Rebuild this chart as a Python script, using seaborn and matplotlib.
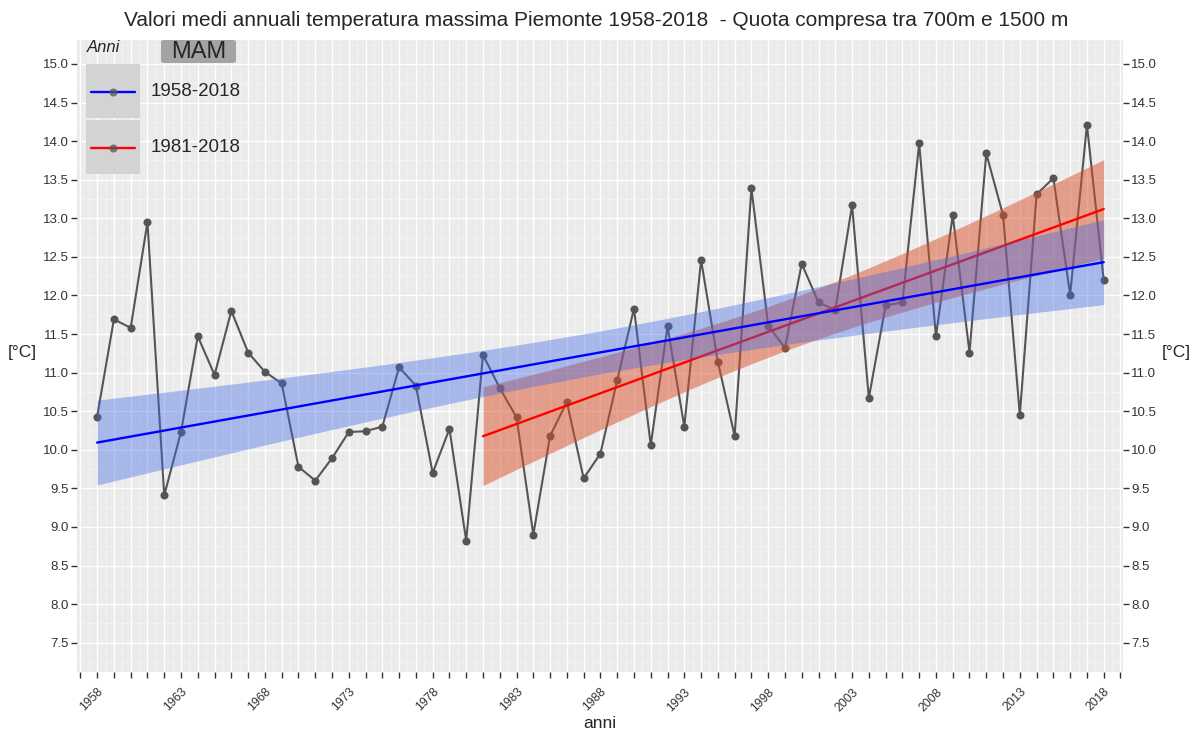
import numpy as np
import pandas as pd
import matplotlib
matplotlib.use("Agg")
import matplotlib.pyplot as plt
from matplotlib.ticker import MultipleLocator, FuncFormatter
from matplotlib.patches import Rectangle, FancyBboxPatch
from matplotlib.lines import Line2D
import seaborn as sns

# Annual mean of daily maximum temperature (MAM), Piemonte, 700-1500 m
years = list(range(1958, 2019))
tmax = [10.43, 11.69, 11.58, 12.95, 9.41, 10.23, 11.47, 10.97, 11.80, 11.26,
        11.01, 10.86, 9.78, 9.60, 9.89, 10.23, 10.24, 10.30, 11.07, 10.83,
        9.70, 10.27, 8.82, 11.23, 10.80, 10.42, 8.90, 10.18, 10.62, 9.63,
        9.95, 10.90, 11.83, 10.06, 11.60, 10.30, 12.46, 11.14, 10.18, 13.39,
        11.61, 11.32, 12.41, 11.91, 11.81, 13.17, 10.67, 11.87, 11.91, 13.97,
        11.47, 13.04, 11.26, 13.84, 13.04, 10.45, 13.31, 13.52, 12.01, 14.21,
        12.20]

periods = ["1958-2018", "1981-2018"]
period_start = [1958, 1981]
line_colors = ["#0000FF", "#FF0000"]
band_colors = ["#4169E1", "#D9512A"]
band_alpha = [0.4, 0.5]
t_975 = {59: 2.0010, 36: 2.0281}   # Student t quantiles for the 95% band

title = "Valori medi annuali temperatura massima Piemonte 1958-2018  - Quota compresa tra 700m e 1500 m"
season = "MAM"

df = pd.DataFrame({"anno": years, "tmax": tmax})

W, H, DPI = 1193, 733, 100
sns.set_theme(style="darkgrid", rc={
    "axes.facecolor": "#EBEBEB",
    "grid.color": "white",
    "figure.facecolor": "white",
})
plt.rcParams["font.family"] = ["Liberation Sans", "DejaVu Sans"]

fig = plt.figure(figsize=(W / DPI, H / DPI), dpi=DPI)
ax = fig.add_axes([77 / W, 1 - 672 / H, (1123 - 77) / W, (672 - 40) / H])


def linear_fit(x, y, dof_t):
    x = np.asarray(x, float)
    y = np.asarray(y, float)
    n = len(x)
    xm = x.mean()
    sxx = np.sum((x - xm) ** 2)
    b = np.sum((x - xm) * y) / sxx
    a = y.mean() - b * xm
    s = np.sqrt(np.sum((y - (a + b * x)) ** 2) / (n - 2))
    xs = np.linspace(x.min(), x.max(), 200)
    ys = a + b * xs
    se = s * np.sqrt(1 / n + (xs - xm) ** 2 / sxx)
    t = dof_t[n - 2]
    return xs, ys, ys - t * se, ys + t * se


# observed series
sns.lineplot(data=df, x="anno", y="tmax", ax=ax, color="#555555", lw=1.5,
             marker="o", markersize=5.8, markeredgewidth=0, zorder=3)

# regression lines with confidence bands (later period drawn first)
for i in [1, 0]:
    sub = df[df["anno"] >= period_start[i]]
    xs, ys, lo, hi = linear_fit(sub["anno"], sub["tmax"], t_975)
    ax.fill_between(xs, lo, hi, color=band_colors[i], alpha=band_alpha[i],
                    lw=0, zorder=4 + 2 * (1 - i))
    sns.lineplot(x=xs, y=ys, ax=ax, color=line_colors[i], lw=1.7,
                 zorder=5 + 2 * (1 - i))

ax.set_xlim(1956.8, 2019.15)
ax.set_ylim(7.12, 15.31)

ax.xaxis.set_major_locator(MultipleLocator(1))
ax.xaxis.set_minor_locator(MultipleLocator(0.5))
ax.xaxis.set_major_formatter(FuncFormatter(
    lambda v, p: f"{int(round(v))}" if (int(round(v)) - 1958) % 5 == 0 else ""))
ax.yaxis.set_major_locator(MultipleLocator(0.5))
ax.yaxis.set_minor_locator(MultipleLocator(0.25))
ax.yaxis.set_major_formatter(FuncFormatter(lambda v, p: f"{v:.1f}"))

ax.grid(which="major", color="white", lw=1.0)
ax.grid(which="minor", color="#F4F4F4", lw=0.6)
for s in ax.spines.values():
    s.set_visible(False)

ax.tick_params(axis="both", which="major", length=4, width=1.0, color="#333333",
               labelcolor="#333333", labelsize=9.5, pad=2)
ax.tick_params(axis="both", which="minor", length=0)
ax.tick_params(axis="y", left=True, right=True, labelleft=True, labelright=True)
ax.tick_params(axis="x", bottom=True, labelsize=8.8, pad=6)
for lab in ax.get_xticklabels():
    lab.set_rotation(45)
    lab.set_ha("right")
    lab.set_va("top")
    lab.set_rotation_mode("anchor")

ax.set_xlabel("anni", fontsize=12.5, labelpad=2)
ax.set_ylabel("")
fig.text(22 / W, 1 - 352 / H, "[°C]", fontsize=12.5, ha="center", va="center")
fig.text(1176 / W, 1 - 352 / H, "[°C]", fontsize=12.5, ha="center", va="center")
fig.suptitle(title, x=0.5, y=1 - 20 / H, fontsize=15, va="center")

# legend drawn in the panel corner
def fx(px):
    return px / W


def fy(py):
    return 1 - py / H


fig.text(fx(87), fy(47), "Anni", fontsize=12, style="italic", ha="left", va="center")
for k, (lab, col) in enumerate(zip(periods, line_colors)):
    top = 64 + k * 56
    fig.patches.append(Rectangle((fx(86), fy(top + 54)), (140 - 86) / W, 54 / H,
                                 transform=fig.transFigure, facecolor="#D3D3D3",
                                 edgecolor="none", zorder=5))
    cy = top + 28
    fig.lines.append(Line2D([fx(91), fx(135)], [fy(cy), fy(cy)], color=col, lw=1.7,
                            transform=fig.transFigure, zorder=6))
    fig.lines.append(Line2D([fx(113)], [fy(cy)], marker="o", markersize=5.8,
                            color="#555555", alpha=0.75, markeredgewidth=0,
                            transform=fig.transFigure, zorder=7))
    fig.text(fx(151), fy(cy), lab, fontsize=13.5, ha="left", va="center", zorder=8)

fig.patches.append(FancyBboxPatch((fx(161), fy(63)), (236 - 161) / W, (63 - 40) / H,
                                  boxstyle="round,pad=0,rounding_size=0.003",
                                  transform=fig.transFigure, facecolor="#A3A3A3",
                                  edgecolor="none", zorder=5))
fig.text(fx(198.5), fy(51.5), season, fontsize=17, ha="center", va="center", zorder=8)

fig.savefig("out.png", dpi=DPI)
